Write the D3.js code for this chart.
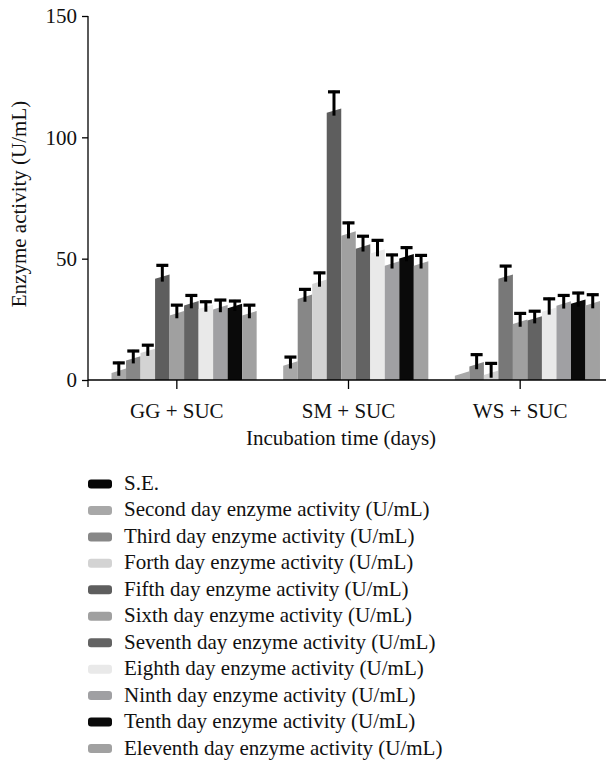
<!DOCTYPE html>
<html>
  <head>
    <meta charset='utf-8'>
    <script src='https://cdn.jsdelivr.net/npm/d3@7/dist/d3.min.js'></script>
    <style>
      body { margin: 0; background: #fff; }
      text { font-family: 'Liberation Serif', 'DejaVu Serif', serif; fill: #111; }
    </style>
  </head>
<body>
  <script type='text/javascript'>
    'use strict';

    // groups on the x axis
    var groups = ['GG + SUC', 'SM + SUC', 'WS + SUC'];

    // legend entries; S.E. takes the first slot in every group but has no bar
    var seriesNames = ['S.E.',
      'Second day enzyme activity (U/mL)',
      'Third day enzyme activity (U/mL)',
      'Forth day enzyme activity (U/mL)',
      'Fifth day enzyme activity (U/mL)',
      'Sixth day enzyme activity (U/mL)',
      'Seventh day enzyme activity (U/mL)',
      'Eighth day enzyme activity (U/mL)',
      'Ninth day enzyme activity (U/mL)',
      'Tenth day enzyme activity (U/mL)',
      'Eleventh day enzyme activity (U/mL)'];
    var seriesColors = ['#050505', '#a8a8a8', '#878787', '#d3d3d3', '#5e5e5e',
      '#a0a0a0', '#636363', '#e9e9e9', '#a0a0a3', '#0a0a0a', '#a1a1a1'];
    // the WS fifth-day bar is printed lighter than its legend swatch
    var wsFifthColor = '#787878';

    // day 2 .. day 11 activity and S.E., one list per group
    var ggMeans = [3.8, 8.9, 12, 42.6, 27.5, 31.6, 30.2, 30, 30.5, 27.5];
    var ggSE    = [3.7, 3.5, 2.8, 5.1, 3.8, 3.7, 2.5, 3.4, 2.5, 3.8];
    var smMeans = [6.8, 34.3, 40.5, 111, 60.4, 55, 53, 48, 51, 48];
    var smSE    = [3.1, 3.5, 4.1, 8.2, 4.8, 4.7, 5, 4, 4, 3.8];
    var wsMeans = [2.7, 6.5, 3, 42.6, 24, 25.4, 29, 31.5, 32.3, 31.6];
    var wsSE    = [0, 4.4, 4.3, 4.8, 3.9, 3.4, 4.9, 3.8, 4, 4];

    var yTicks = [0, 50, 100, 150];

    var WIDTH = 608, HEIGHT = 761;
    var X0 = 88, X1 = 606, Y0 = 380, YTOP = 16;
    var FONT = '21px';

    var meansByGroup = [ggMeans, smMeans, wsMeans];
    var seByGroup = [ggSE, smSE, wsSE];
    var bars = [];
    groups.forEach(function (g, gi) {
      meansByGroup[gi].forEach(function (v, i) {
        var c = seriesColors[i + 1];
        if (gi === 2 && i === 3) c = wsFifthColor;
        bars.push({ group: g, series: seriesNames[i + 1], color: c,
                    value: v, se: seByGroup[gi][i] });
      });
    });

    var svg = d3.select('body')
      .append('svg')
      .attr('width', WIDTH)
      .attr('height', HEIGHT);

    var x0 = d3.scaleBand()
      .domain(groups)
      .range([91, X1])
      .paddingInner(0.07)
      .paddingOuter(0.035);

    var x1 = d3.scaleBand()
      .domain(seriesNames)
      .range([0, x0.bandwidth()]);

    var y = d3.scaleLinear()
      .domain([0, 150])
      .range([Y0, YTOP]);

    // bars, with the slightly slanted tops of the original
    var slant = 2.2;
    svg.append('g')
      .selectAll('path')
      .data(bars)
      .enter()
      .append('path')
      .attr('fill', function (d) { return d.color; })
      .attr('d', function (d) {
        var xl = x0(d.group) + x1(d.series), xr = xl + x1.bandwidth();
        var yt = y(d.value);
        var yl = Math.min(Y0, yt + slant), yr = Math.min(Y0, yt - slant);
        return 'M' + xl + ',' + Y0 + 'L' + xl + ',' + yl + 'L' + xr + ',' + yr +
               'L' + xr + ',' + Y0 + 'Z';
      });

    // error bars: cap at value + S.E., stem dips a little into the bar
    var err = svg.append('g')
      .selectAll('g')
      .data(bars.filter(function (d) { return d.se > 0; }))
      .enter()
      .append('g')
      .attr('transform', function (d) {
        return 'translate(' + (x0(d.group) + x1(d.series) + x1.bandwidth() / 2) + ',0)';
      });
    err.append('line')
      .attr('y1', function (d) { return y(d.value + d.se); })
      .attr('y2', function (d) { return Math.min(Y0 - 2, y(d.value) + 5); })
      .attr('stroke', '#000')
      .attr('stroke-width', 3);
    err.append('rect')
      .attr('x', -6)
      .attr('width', 12)
      .attr('y', function (d) { return y(d.value + d.se) - 0.5; })
      .attr('height', 3.2)
      .attr('fill', '#000');

    // y axis
    var yAxis = svg.append('g')
      .attr('transform', 'translate(' + X0 + ',0)')
      .call(d3.axisLeft(y).tickValues(yTicks).tickSize(6).tickPadding(5).tickSizeOuter(0));
    yAxis.select('.domain').remove();
    yAxis.selectAll('.tick line').attr('stroke', '#000').attr('stroke-width', 1.3);
    yAxis.selectAll('.tick text')
      .style('font-family', "'Liberation Serif', serif")
      .style('font-size', FONT)
      .attr('fill', '#111');
    svg.append('line')
      .attr('x1', X0).attr('x2', X0)
      .attr('y1', y(150)).attr('y2', Y0 + 7)
      .attr('stroke', '#000').attr('stroke-width', 1.3);

    // x axis
    var xAxis = svg.append('g')
      .attr('transform', 'translate(0,' + Y0 + ')')
      .call(d3.axisBottom(x0).tickSize(9).tickPadding(14).tickSizeOuter(0));
    xAxis.select('.domain').remove();
    xAxis.selectAll('.tick line').attr('stroke', '#000').attr('stroke-width', 1.3);
    xAxis.selectAll('.tick text')
      .style('font-family', "'Liberation Serif', serif")
      .style('font-size', FONT)
      .attr('fill', '#111');
    svg.append('line')
      .attr('x1', X0).attr('x2', X1)
      .attr('y1', Y0).attr('y2', Y0)
      .attr('stroke', '#000').attr('stroke-width', 1.3);

    // axis titles
    svg.append('text')
      .attr('transform', 'translate(26,204) rotate(-90)')
      .attr('text-anchor', 'middle')
      .style('font-size', FONT)
      .text('Enzyme activity (U/mL)');

    svg.append('text')
      .attr('x', 341)
      .attr('y', 445)
      .attr('text-anchor', 'middle')
      .style('font-size', FONT)
      .text('Incubation time (days)');

    // legend
    var legend = svg.append('g')
      .selectAll('g')
      .data(seriesNames)
      .enter()
      .append('g')
      .attr('transform', function (d, i) { return 'translate(88,' + (484 + i * 26.45) + ')'; });
    legend.append('rect')
      .attr('x', 0).attr('y', -4.5)
      .attr('width', 24).attr('height', 9)
      .attr('rx', 3)
      .attr('fill', function (d, i) { return seriesColors[i]; });
    legend.append('text')
      .attr('x', 36)
      .attr('y', 6)
      .style('font-size', FONT)
      .text(function (d) { return d; });
  </script>
</body>
</html>
